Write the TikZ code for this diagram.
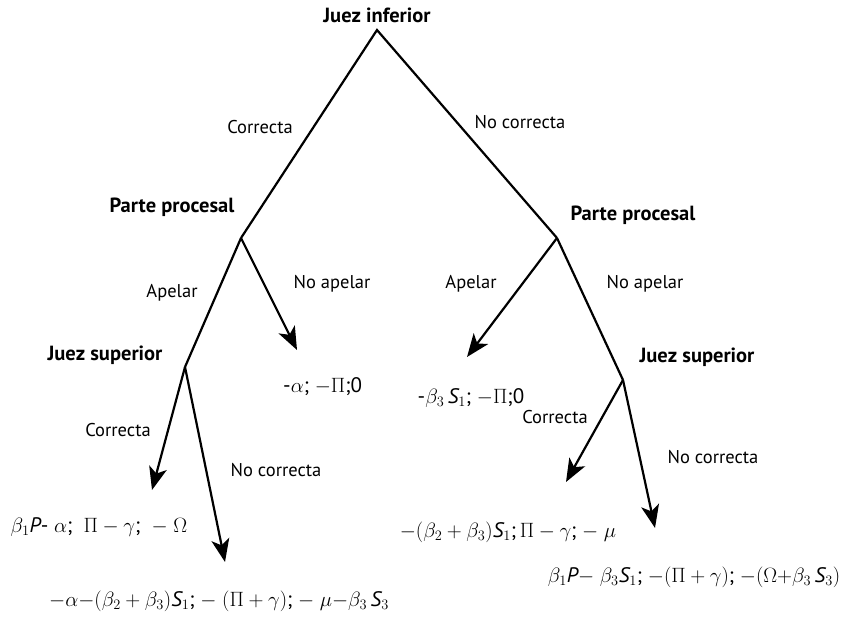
\documentclass[tikz,border=0pt]{standalone}
\usepackage{fontspec}
\setmainfont{PT Sans}
\usetikzlibrary{arrows.meta}
\newcommand{\iP}{\mbox{\itshape P}}
\newcommand{\iS}{\mbox{\itshape S}}
\begin{document}
\begin{tikzpicture}[x=1pt,y=-1pt,
  lbl/.style={font=\fontsize{18.5}{20}\selectfont, inner sep=0pt},
  who/.style={font=\fontsize{20.5}{22}\selectfont\bfseries, inner sep=0pt},
  pay/.style={font=\fontsize{21}{23}\selectfont, inner sep=0pt},
  edge/.style={line width=2.2pt},
  arr/.style={line width=2.2pt, -{Stealth[length=23pt,width=18pt,inset=6pt]}}]
\useasboundingbox (0,0) rectangle (846,623);
% decision points
\coordinate (root) at (377,30);
\coordinate (ppl) at (241,238);
\coordinate (ppr) at (557,238);
\coordinate (jsl) at (185,367);
\coordinate (jsr) at (623,380);
\coordinate (endA) at (297,350);
\coordinate (endB) at (467,357);
\coordinate (endC) at (152,490);
\coordinate (endD) at (225,562);
\coordinate (endE) at (566,482);
\coordinate (endF) at (655,528);
% connectors
\draw[edge] (ppl) -- (root) -- (ppr);
\draw[edge] (ppl) -- (jsl);
\draw[arr] (ppl) -- (endA);
\draw[arr] (ppr) -- (endB);
\draw[edge] (ppr) -- (jsr);
\draw[arr] (jsl) -- (endC);
\draw[arr] (jsl) -- (endD);
\draw[arr] (jsr) -- (endE);
\draw[arr] (jsr) -- (endF);
% player labels
\node[who] (tjinf) at (377,15) {Juez inferior};
\node[who] (tppl) at (172,207) {Parte procesal};
\node[who] (tppr) at (633,215) {Parte procesal};
\node[who] (tjsl) at (105,355) {Juez superior};
\node[who] (tjsr) at (697,357) {Juez superior};
% action labels
\node[lbl] (l1) at (260,127) {Correcta};
\node[lbl] (l2) at (520,122) {No correcta};
\node[lbl] (l3) at (172,293) {Apelar};
\node[lbl] (l4) at (332,284) {No apelar};
\node[lbl] (l5) at (471,284) {Apelar};
\node[lbl] (l6) at (645,284) {No apelar};
\node[lbl] (l7) at (555,417) {Correcta};
\node[lbl] (l8) at (118,430) {Correcta};
\node[lbl] (l9) at (276,470) {No correcta};
\node[lbl] (l10) at (713,457) {No correcta};
% payoffs
\node[pay,anchor=west] (p1) at (283,387) {-$\alpha$; $-\Pi$;0};
\node[pay] (p2) at (471,398) {-$\beta_3$\,\iS$_1$; $-\Pi$;0};
\node[pay] (p3) at (99,527) {$\beta_1$\iP- $\alpha$;\ \ $\Pi-\gamma$;\ \ $-\ \Omega$};
\node[pay] (p4) at (219,601) {$-\alpha{-}(\beta_2+\beta_3)$\iS$_1$; $-\ (\Pi+\gamma)$; $-\ \mu{-}\beta_3$\,\iS$_3$};
\node[pay] (p5) at (508,532) {$-(\beta_2+\beta_3)$\iS$_1$;\,$\Pi-\gamma$; $-\ \mu$};
\node[pay] (p6) at (694,577) {$\beta_1$\iP $-\ \beta_3$\iS$_1$; $-(\Pi+\gamma)$; $-(\Omega{+}\beta_3$\,\iS$_3)$};
\end{tikzpicture}
\end{document}
